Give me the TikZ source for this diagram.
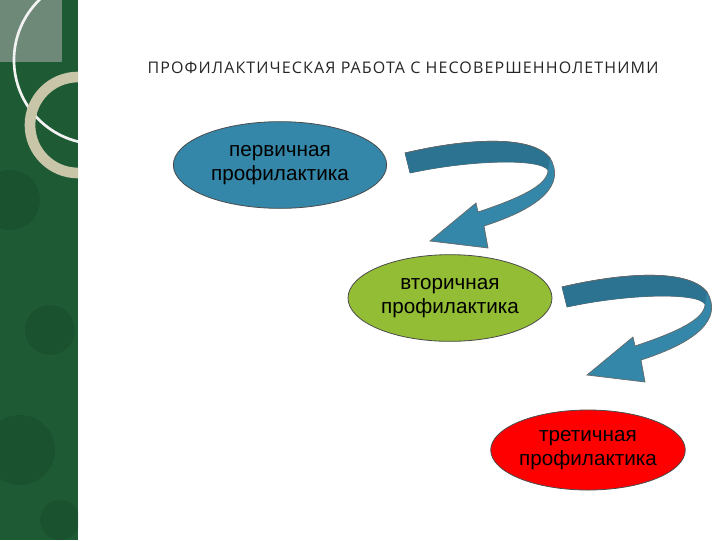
\documentclass[tikz,border=0pt]{standalone}
\usepackage{fontspec}
\setmainfont{Liberation Sans}
\newfontfamily\titlefont[LetterSpace=7]{Open Sans}
\usetikzlibrary{shapes.geometric}
\definecolor{arrowc}{HTML}{3487A8}
\definecolor{arrowd}{HTML}{2C7392}
\definecolor{strip}{HTML}{1E5B35}
\begin{document}
\begin{tikzpicture}[x=0.75pt,y=-0.75pt,
  oval/.style={ellipse,draw=black!70,line width=0.6pt,minimum width=#1,inner sep=0pt,align=center,font=\fontsize{15.5}{17.5}\selectfont},
  arrowshape/.style={fill=arrowc,draw=black!60,line width=0.5pt}]
\useasboundingbox (0,0) rectangle (720,540);
\fill[white] (0,0) rectangle (720,540);
% left strip
\begin{scope}
\clip (0,0) rectangle (78,540);
\fill[strip] (0,0) rectangle (78,540);
\fill[strip!80!black,opacity=0.5] (10,200) circle (30) (50,330) circle (25) (20,450) circle (35) (60,520) circle (20);
\fill[strip!55!gray!80!white] (0,0) rectangle (62,62);
\draw[white!90!gray,line width=2pt] (98,60) circle (84);
\draw[gray!70!olive!50!white,line width=8pt] (78,125) circle (48);
\end{scope}
\node[font=\titlefont\fontsize{12}{14}\selectfont,text=black!85] (title) at (403,68) {ПРОФИЛАКТИЧЕСКАЯ РАБОТА С НЕСОВЕРШЕННОЛЕТНИМИ};
% ovals
\node[oval=160pt,minimum height=65pt,fill=arrowc] (p1) at (280,165) {первичная\\профилактика};
\node[oval=153pt,minimum height=65pt,fill=yellow!60!green!85!black] (p2) at (450,298) {вторичная\\профилактика};
\node[oval=140pt,minimum height=60pt,fill=red] (p3) at (588,450) {третичная\\профилактика};
% arrows
\foreach \dx/\dy/\n in {0/0/a1,157/134/a2}{
\begin{scope}[shift={(\dx,\dy)}]
\path[arrowshape] (405,153) .. controls (460,140) and (530,133) .. (550,158)
  .. controls (566,185) and (540,208) .. (484,226) -- (488,248) -- (430,241) -- (476,203) -- (478,212)
  .. controls (520,198) and (548,185) .. (548,170)
  .. controls (540,158) and (470,160) .. (410,173) -- cycle;
\path[fill=arrowd] (405,153) .. controls (460,140) and (530,133) .. (550,158)
  -- (548,170) .. controls (540,158) and (470,160) .. (410,173) -- cycle;
\draw[black!60,line width=0.5pt] (405,153) .. controls (460,140) and (530,133) .. (550,158);
\coordinate (\n) at (430,241);
\end{scope}}
\end{tikzpicture}
\end{document}
